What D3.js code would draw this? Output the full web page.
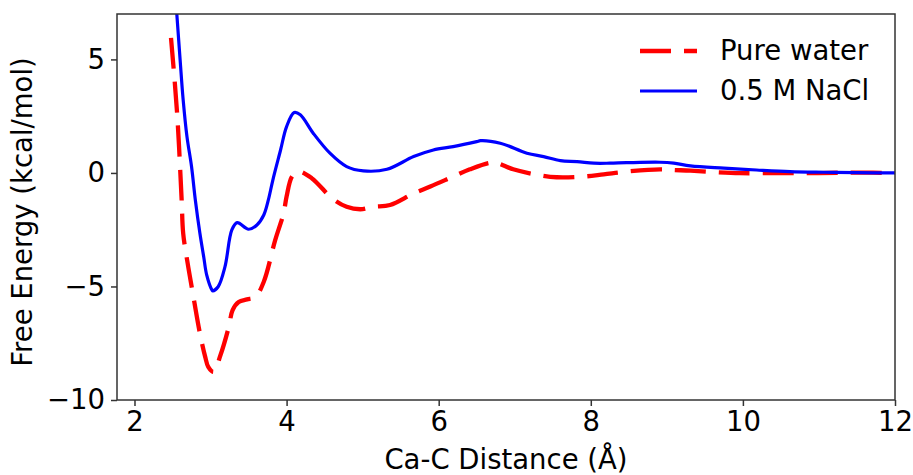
<!DOCTYPE html>
<head>
	<meta charset="utf-8">
	<style>
		body {margin: 0; background: #fff;}
		text {font-family: "DejaVu Sans", sans-serif; fill: #000;}
		.axis path, .axis line {stroke: #333; stroke-width: 1.5;}
	</style>
	<script src="https://d3js.org/d3.v7.min.js" charset="utf-8"></script>
</head>
<body>
	<script>
		// Ca-C distance (Å) and free energy (kcal/mol)
		var waterX = [2.48, 2.56, 2.62, 2.64, 2.70, 2.76, 2.86, 2.93, 2.97, 3.04, 3.13, 3.24, 3.29, 3.37, 3.48, 3.59, 3.70, 3.85, 3.96, 4.00, 4.07, 4.15, 4.33, 4.60, 4.79, 4.97, 5.14, 5.36, 5.67, 5.89, 6.19, 6.41, 6.68, 6.77, 6.98, 7.31, 7.55, 7.90, 8.17, 8.47, 8.91, 9.09, 9.31, 9.66, 9.96, 10.4, 10.84, 11.28, 11.71, 12.0];
		var waterY = [5.95, 2.65, -1.19, -2.65, -4.0, -5.16, -7.06, -8.10, -8.54, -8.76, -8.03, -6.78, -6.04, -5.68, -5.57, -5.46, -4.79, -2.96, -1.78, -1.04, -0.16, 0.07, -0.23, -1.12, -1.49, -1.60, -1.49, -1.41, -0.90, -0.60, -0.16, 0.16, 0.45, 0.43, 0.16, -0.09, -0.19, -0.16, -0.06, 0.06, 0.16, 0.13, 0.10, 0.03, -0.01, -0.01, -0.01, 0.01, 0.01, 0.0];

		var naclX = [2.55, 2.60, 2.64, 2.69, 2.75, 2.80, 2.86, 2.91, 2.95, 3.02, 3.03, 3.10, 3.19, 3.28, 3.35, 3.50, 3.61, 3.70, 3.76, 3.82, 3.92, 4.00, 4.10, 4.18, 4.35, 4.57, 4.79, 5.01, 5.32, 5.67, 5.93, 6.19, 6.50, 6.55, 6.81, 7.16, 7.38, 7.60, 7.82, 8.04, 8.25, 8.47, 8.91, 9.09, 9.31, 9.75, 10.18, 10.62, 11.06, 11.5, 12.0];
		var naclY = [7.3, 4.98, 3.22, 1.60, 0.28, -1.19, -2.66, -3.69, -4.50, -5.16, -5.19, -5.01, -4.13, -2.51, -2.19, -2.48, -2.29, -1.85, -1.19, -0.3, 1.0, 2.04, 2.66, 2.56, 1.75, 0.87, 0.28, 0.09, 0.16, 0.72, 1.01, 1.16, 1.38, 1.42, 1.31, 0.87, 0.72, 0.54, 0.50, 0.43, 0.43, 0.45, 0.47, 0.43, 0.31, 0.21, 0.13, 0.06, 0.03, 0.01, 0.0];

		var seriesNames = ["Pure water", "0.5 M NaCl"];
		var xTicks = [2, 4, 6, 8, 10, 12];
		var yTicks = [-10, -5, 0, 5];

		var margin = {top: 14, right: 18, bottom: 75, left: 117},
			width = 913 - margin.left - margin.right,
			height = 475 - margin.top - margin.bottom,
			fontSize = 27.5;

		var svg = d3.select("body").append("svg")
					.attr("width", 913)
					.attr("height", 475)
					.append("g")
					.attr("transform", "translate(" + margin.left + "," + margin.top + ")");

		var x = d3.scaleLinear().domain([1.77, 12]).range([0, width]);
		var y = d3.scaleLinear().domain([-10, 7]).range([height, 0]);

		svg.append("defs").append("clipPath").attr("id", "clip")
			.append("rect").attr("width", width).attr("height", height);

		var line = d3.line()
			.x(function(d){return x(d[0]);})
			.y(function(d){return y(d[1]);})
			.curve(d3.curveCatmullRom.alpha(0.5));

		var water = waterX.map(function(v, i){return [v, waterY[i]];});
		var nacl = naclX.map(function(v, i){return [v, naclY[i]];});

		var plot = svg.append("g").attr("clip-path", "url(#clip)");

		plot.append("path")
			.datum(water)
			.attr("d", line)
			.attr("fill", "none")
			.attr("stroke", "#ff0000")
			.attr("stroke-width", 4.3)
			.attr("stroke-dasharray", "31,13");

		plot.append("path")
			.datum(nacl)
			.attr("d", line)
			.attr("fill", "none")
			.attr("stroke", "#0000ff")
			.attr("stroke-width", 3.2);

		// frame
		svg.append("rect")
			.attr("width", width)
			.attr("height", height)
			.attr("fill", "none")
			.attr("stroke", "#333")
			.attr("stroke-width", 1.5);

		var xAxis = svg.append("g")
			.attr("class", "axis")
			.attr("transform", "translate(0," + height + ")")
			.call(d3.axisBottom(x).tickValues(xTicks).tickSize(6).tickPadding(5));
		xAxis.select(".domain").remove();
		xAxis.selectAll("text").attr("font-size", fontSize).attr("dy", "0.72em");

		var yAxis = svg.append("g")
			.attr("class", "axis")
			.call(d3.axisLeft(y).tickValues(yTicks).tickSize(6).tickPadding(6)
				.tickFormat(function(d){return d < 0 ? "\u2212" + Math.abs(d) : d;}));
		yAxis.select(".domain").remove();
		yAxis.selectAll("text").attr("font-size", fontSize);

		svg.append("text")
			.attr("x", width / 2)
			.attr("y", height + 69)
			.attr("text-anchor", "middle")
			.attr("font-size", fontSize)
			.text("Ca-C Distance (\u00c5)");

		svg.append("text")
			.attr("transform", "translate(" + (-85) + "," + (height / 2 + 5) + ") rotate(-90)")
			.attr("text-anchor", "middle")
			.attr("font-size", fontSize)
			.text("Free Energy (kcal/mol)");

		// legend
		var legend = svg.append("g").attr("transform", "translate(" + (width - 255) + ",37)");
		var styles = [{c: "#ff0000", w: 4.3, dash: "31,13"}, {c: "#0000ff", w: 3.2, dash: null}];
		seriesNames.forEach(function(name, i){
			var g = legend.append("g").attr("transform", "translate(0," + (i * 40) + ")");
			g.append("line")
				.attr("x1", 0).attr("x2", 57)
				.attr("stroke", styles[i].c)
				.attr("stroke-width", styles[i].w)
				.attr("stroke-dasharray", styles[i].dash);
			g.append("text")
				.attr("x", 80)
				.attr("y", 9)
				.attr("font-size", fontSize)
				.text(name);
		});
	</script>
</body>

</html>
